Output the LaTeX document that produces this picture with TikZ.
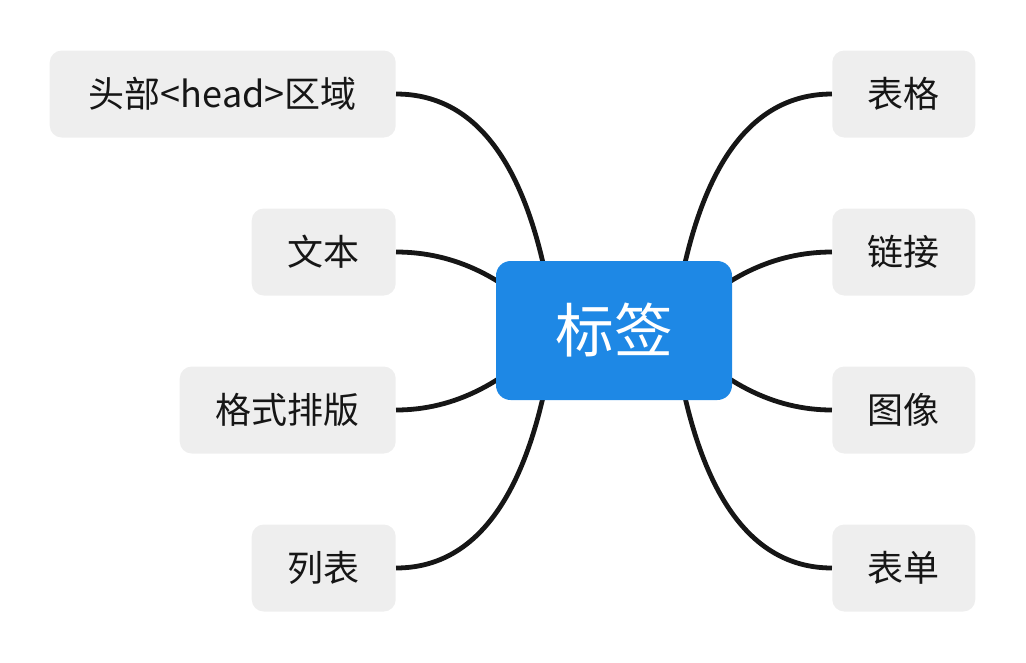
\documentclass[tikz,border=0pt]{standalone}
\usepackage{fontspec}
\setmainfont{Noto Sans CJK SC}
\usetikzlibrary{backgrounds}
\definecolor{topicgray}{HTML}{EEEEEE}
\definecolor{rootblue}{HTML}{1E88E5}
\definecolor{inkblack}{HTML}{161616}
\tikzset{
  topic/.style = {
    fill=topicgray, rounded corners=9pt, inner sep=0pt,
    minimum height=65.25pt, text=inkblack,
    font=\fontsize{27}{32}\selectfont
  },
  root/.style = {
    fill=rootblue, rounded corners=11pt, inner sep=0pt,
    minimum width=177pt, minimum height=104.25pt, text=white,
    font=\fontsize{44}{52}\selectfont
  },
  branch/.style = {draw=inkblack, line width=3.6pt}
}
\begin{document}
\begin{tikzpicture}[x=0.75pt,y=-0.75pt]
  \useasboundingbox (0,0) rectangle (1026,662);
  \node[root] (label) at (614,330.5) {标签};
  \coordinate (lorig) at (555,330);
  \coordinate (rorig) at (673,330);
  % left side
  \node[topic,anchor=east,minimum width=259.5pt] (head) at (396,94) {头部<head>区域};
  \node[topic,anchor=east,minimum width=108pt] (text) at (396,252) {文本};
  \node[topic,anchor=east,minimum width=162pt] (format) at (396,410) {格式排版};
  \node[topic,anchor=east,minimum width=108pt] (list) at (396,568) {列表};
  % right side
  \node[topic,anchor=west,minimum width=107.25pt] (table) at (832,94) {表格};
  \node[topic,anchor=west,minimum width=107.25pt] (link) at (832,252) {链接};
  \node[topic,anchor=west,minimum width=107.25pt] (image) at (832,410) {图像};
  \node[topic,anchor=west,minimum width=107.25pt] (form) at (832,568) {表单};
  \begin{scope}[on background layer]
  \draw[branch]
    (lorig) .. controls +(-21,-157) and +(85,0) .. (head.east)
    (lorig) .. controls +(-47,-52) and +(59,0) .. (text.east)
    (lorig) .. controls +(-47,52) and +(59,0) .. (format.east)
    (lorig) .. controls +(-21,157) and +(85,0) .. (list.east)
    (rorig) .. controls +(21,-157) and +(-85,0) .. (table.west)
    (rorig) .. controls +(47,-52) and +(-59,0) .. (link.west)
    (rorig) .. controls +(47,52) and +(-59,0) .. (image.west)
    (rorig) .. controls +(21,157) and +(-85,0) .. (form.west)
    ;
  \end{scope}
\end{tikzpicture}
\end{document}
